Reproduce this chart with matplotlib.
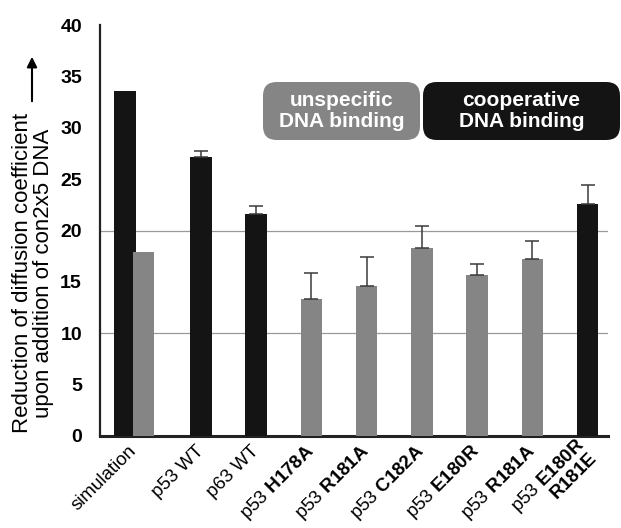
import numpy as np
import matplotlib
matplotlib.use("Agg")
import matplotlib.pyplot as plt
from matplotlib.patches import FancyBboxPatch

plt.rcParams["font.family"] = ["Liberation Sans", "DejaVu Sans"]
plt.rcParams["mathtext.fontset"] = "custom"
plt.rcParams["mathtext.rm"] = "Liberation Sans"
plt.rcParams["mathtext.bf"] = "Liberation Sans:bold"

# data
labels = ["simulation", "p53 WT", "p63 WT",
          r"p53 $\mathbf{H178A}$", r"p53 $\mathbf{R181A}$", r"p53 $\mathbf{C182A}$",
          r"p53 $\mathbf{E180R}$", r"p53 $\mathbf{R181A}$",
          "p53 $\\mathbf{E180R}$\n$\\mathbf{R181E}$"]
values = [33.6, 27.2, 21.6, 13.3, 14.6, 18.3, 15.7, 17.2, 22.6]
errors = [0.0, 0.5, 0.8, 2.6, 2.8, 2.1, 1.0, 1.8, 1.8]
kinds = ["coop", "coop", "coop", "unspec", "unspec", "unspec", "unspec", "unspec", "coop"]
sim_unspecific = 17.9  # second simulation bar

BLACK = "#141414"
GRAY = "#858585"

fig = plt.figure(figsize=(6.21, 5.28), dpi=100)
ax = fig.add_axes([100 / 621, 1 - 436 / 528, 508 / 621, 411 / 528])

x = np.arange(len(values), dtype=float)
xbar = x.copy()
xbar[0] = -0.38
colors = [BLACK if k == "coop" else GRAY for k in kinds]
w = 0.39

ax.bar(xbar, values, width=w, color=colors, zorder=3)
ax.bar([-0.04], [sim_unspecific], width=w, color=GRAY, zorder=3)

err = np.array(errors)
mask = err > 0
ax.errorbar(xbar[mask], np.array(values)[mask], yerr=[np.zeros(mask.sum()), err[mask]],
            fmt="none", ecolor="#3a3a3a", elinewidth=1.1, capsize=5, capthick=1.1, zorder=4)

for gy in (10, 20):
    ax.axhline(gy, color="#999999", lw=0.9, zorder=1)

ax.set_xlim(-0.83, 8.37)
ax.set_ylim(0, 40)
ax.set_yticks(np.arange(0, 41, 5))
ax.tick_params(axis="y", length=0, pad=13, labelsize=14)
for t in ax.get_yticklabels():
    t.set_fontweight("bold")

xt = x.copy()
xt[0] = -0.21
ax.set_xticks(xt)
ax.set_xticklabels(labels, rotation=45, ha="right", va="center",
                   rotation_mode="anchor", fontsize=13.5, linespacing=1.0)
ax.tick_params(axis="x", length=0, pad=9)

for s in ("top", "right"):
    ax.spines[s].set_visible(False)
ax.spines["left"].set_linewidth(1.6)
ax.spines["bottom"].set_linewidth(2.2)
ax.spines["left"].set_color("#222222")
ax.spines["bottom"].set_color("#222222")

# y label with arrow
fig.text(33 / 621, 1 - 273 / 528,
         "Reduction of diffusion coefficient\nupon addition of con2x5 DNA",
         rotation=90, ha="center", va="center", multialignment="center",
         fontsize=16, linespacing=0.98)
fig.add_artist(matplotlib.patches.FancyArrowPatch(
    (32 / 621, 1 - 104 / 528), (32 / 621, 1 - 54 / 528), transform=fig.transFigure,
    arrowstyle="-|>,head_length=6,head_width=3", color="black", lw=1.5))

# category boxes
boxes = [(263, 420, GRAY, "unspecific\nDNA binding"),
         (423, 620, BLACK, "cooperative\nDNA binding")]
for x0, x1, c, txt in boxes:
    bx = FancyBboxPatch((x0 / 621, 1 - 140 / 528), (x1 - x0) / 621, 58 / 528,
                        boxstyle="round,pad=0,rounding_size=0.022",
                        mutation_aspect=621 / 528,
                        transform=fig.transFigure, facecolor=c, edgecolor="none")
    fig.add_artist(bx)
    fig.text((x0 + x1) / 2 / 621, 1 - 111 / 528, txt, ha="center", va="center",
             color="white", fontweight="bold", fontsize=15, linespacing=1.1)

fig.savefig("out.png", dpi=100)
